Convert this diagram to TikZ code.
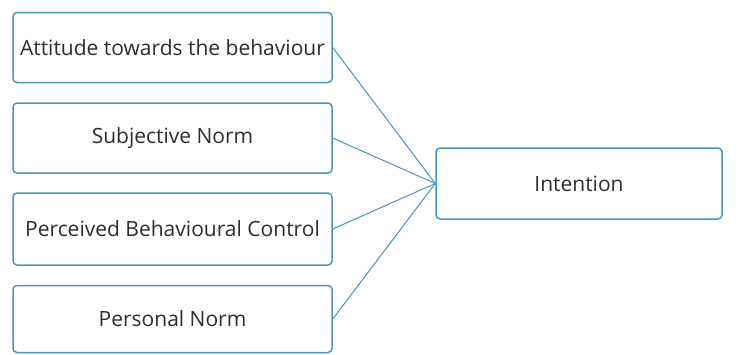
\documentclass[tikz,border=0pt]{standalone}
\usepackage{fontspec}
\setmainfont{Open Sans}
\definecolor{boxblue}{RGB}{75,150,190}
\definecolor{linkblue}{RGB}{70,150,185}
\definecolor{txtgray}{RGB}{45,45,45}
\begin{document}
\begin{tikzpicture}[x=1pt, y=-1pt,
    factor/.style={draw=boxblue, line width=1.5pt, rounded corners=4pt, inner sep=0pt,
        minimum width=319pt, minimum height=70pt, text=txtgray, font=\fontsize{21}{25}\selectfont},
    link/.style={draw=linkblue, line width=1pt}]
    \useasboundingbox (0,0) rectangle (743,354);
    \node[factor] (att) at (172.5,47.5) {Attitude towards the behaviour};
    \node[factor] (sub) at (172.5,138) {Subjective Norm};
    \node[factor, minimum height=72pt] (pbc) at (172.5,229) {Perceived Behavioural Control};
    \node[factor, minimum height=67pt] (pn) at (172.5,319) {Personal Norm};
    \node[factor, minimum width=286pt, minimum height=71pt] (int) at (579,183.5) {Intention};
    \draw[link] (att.east) -- (int.west);
    \draw[link] (sub.east) -- (int.west);
    \draw[link] (pbc.east) -- (int.west);
    \draw[link] (pn.east) -- (int.west);
\end{tikzpicture}
\end{document}
